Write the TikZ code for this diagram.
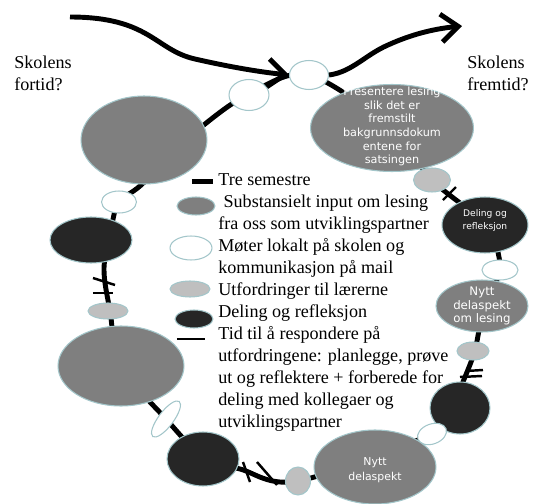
\documentclass[tikz,border=0pt]{standalone}
\usepackage{fontspec}
\setmainfont{Liberation Serif}
\newfontfamily\beadfont{DejaVu Sans}
\usetikzlibrary{arrows.meta}
\usetikzlibrary{shapes.geometric}

\definecolor{beadgray}{HTML}{7F7F7F}
\definecolor{beadlight}{HTML}{BFBFBF}
\definecolor{beaddark}{HTML}{262626}
\definecolor{beadrim}{HTML}{A3C6CA}

\begin{document}
\begin{tikzpicture}[x=0.02cm, y=-0.02cm,
    bead/.style={ellipse, draw=beadrim, line width=0.6pt, inner sep=0pt},
    inputbead/.style={bead, fill=beadgray},
    meetbead/.style={bead, fill=white},
    taskbead/.style={bead, fill=beadlight},
    sharebead/.style={bead, fill=beaddark},
    beadtext/.style={font=\beadfont\fontsize{6.4}{7.8}\selectfont, text=white, align=center},
    semester/.style={line width=2.8pt, line join=round},
    respond/.style={line width=1.4pt},
    flow/.style={line width=2.8pt, -{Straight Barb[length=3.4mm, width=5.6mm]}},
    prose/.style={font=\fontsize{10.3}{12.52}\selectfont, align=left, inner sep=0pt}]
    \useasboundingbox (0,0) rectangle (539,504);

    % the three semesters
    \draw [semester] plot [smooth cycle, tension=0.55] coordinates {(309,75) (392,129) (432,180) (485,225) (500,268) (484,306) (475,350) (463,382) (452,410) (432,434) (298,481) (240,469) (203,457) (166,419) (121,366) (110,311) (104,268) (112,224) (119,202) (140,186) (172,155) (205,124) (249,94)};

    % time to respond
    \draw [respond] (443,200) -- (456,187);
    \draw [respond] (466,371) -- (483,370);
    \draw [respond] (460,377) -- (482,376);
    \draw [respond] (243,462) -- (250,482);
    \draw [respond] (257,462) -- (277,485);
    \draw [respond] (93,278) -- (115,285);
    \draw [respond] (93,293) -- (113,293);

    % beads along the loop
    \node [inputbead, minimum width=2.52cm, minimum height=1.76cm] (start) at (144,140) {};
    \node [meetbead, minimum width=0.8cm, minimum height=0.62cm] (w1) at (249,95) {};
    \node [meetbead, minimum width=0.78cm, minimum height=0.58cm] (w2) at (309,75) {};
    \node [inputbead, minimum width=3.26cm, minimum height=1.74cm,
        label={[beadtext, yshift=0.03cm]center:Presentere lesing\\slik det er\\fremstilt\\bakgrunnsdokum\\entene for\\satsingen}] (present) at (392,128) {};
    \node [taskbead, minimum width=0.74cm, minimum height=0.48cm] (t1) at (432,180) {};
    \node [sharebead, minimum width=1.72cm, minimum height=1.12cm,
        label={[beadtext, font=\beadfont\fontsize{5.2}{7.2}\selectfont, yshift=0.09cm]center:Deling og\\refleksjon}] (share1) at (485,225) {};
    \node [meetbead, minimum width=0.72cm, minimum height=0.4cm] (w3) at (500,270) {};
    \node [inputbead, minimum width=1.84cm, minimum height=1.04cm,
        label={[beadtext, font=\beadfont\fontsize{6.7}{7.9}\selectfont]center:Nytt\\delaspekt\\om lesing}] (aspect1) at (482,306) {};
    \node [taskbead, minimum width=0.64cm, minimum height=0.36cm] (t2) at (473,351) {};
    \node [sharebead, minimum width=1.2cm, minimum height=1.04cm] (share2) at (460,408) {};
    \node [meetbead, minimum width=0.6cm, minimum height=0.4cm, rotate=20] (w4) at (432,434) {};
    \node [inputbead, minimum width=2.44cm, minimum height=1.48cm,
        label={[beadtext, font=\beadfont\fontsize{6.2}{8.8}\selectfont, yshift=-0.06cm]center:Nytt\\delaspekt}] (aspect2) at (375,467) {};
    \node [taskbead, minimum width=0.5cm, minimum height=0.56cm] (t3) at (298,481) {};
    \node [sharebead, minimum width=1.44cm, minimum height=1.08cm] (share3) at (203,459) {};
    \node [meetbead, minimum width=0.88cm, minimum height=0.3cm, rotate=53] (w5) at (166,419) {};
    \node [inputbead, minimum width=2.52cm, minimum height=1.6cm] (input3) at (121,366) {};
    \node [taskbead, minimum width=0.8cm, minimum height=0.32cm] (t4) at (108,311) {};
    \node [sharebead, minimum width=1.64cm, minimum height=0.92cm] (share4) at (91,240) {};
    \node [meetbead, minimum width=0.7cm, minimum height=0.44cm] (w6) at (119,202) {};

    % past and future
    \coordinate (pastend) at (70,17);
    \coordinate (futureend) at (462,26);
    \draw [flow] (pastend) .. controls (150,17) and (155,50) .. (195,59) .. controls (230,67) and (260,72) .. (w2.west);
    \draw [flow] (w2.east) .. controls (352,72) and (365,55) .. (388,45) .. controls (410,35) and (432,29) .. (futureend);
    \node [prose, anchor=base west] (pastlabel) at (14,90) {Skolens\\fortid?};
    \node [prose, anchor=base west] (futurelabel) at (467,90) {Skolens\\fremtid?};

    % legend
    \draw [semester] (192,181.5) -- (213,181.5);
    \node [inputbead, minimum width=0.76cm, minimum height=0.36cm] (keyinput) at (196,206) {};
    \node [meetbead, minimum width=0.84cm, minimum height=0.48cm] (keymeet) at (191,248) {};
    \node [taskbead, minimum width=0.8cm, minimum height=0.32cm] (keytask) at (190,289) {};
    \node [sharebead, minimum width=0.76cm, minimum height=0.36cm] (keyshare) at (194,319) {};
    \draw [respond] (177,339) -- (205,339);
    \node [prose, anchor=base west] (keytext) at (218,427) {Tre semestre\\
        \hspace*{3pt}Substansielt input om lesing\\
        fra oss som utviklingspartner\\
        M\o ter lokalt p\aa{} skolen og\\
        kommunikasjon p\aa{} mail\\
        Utfordringer til l\ae rerne\\
        Deling og refleksjon\\
        Tid til \aa{} respondere p\aa\\
        utfordringene: planlegge, pr\o ve\\
        ut og reflektere + forberede for\\
        deling med kollegaer og\\
        utviklingspartner};
\end{tikzpicture}
\end{document}
